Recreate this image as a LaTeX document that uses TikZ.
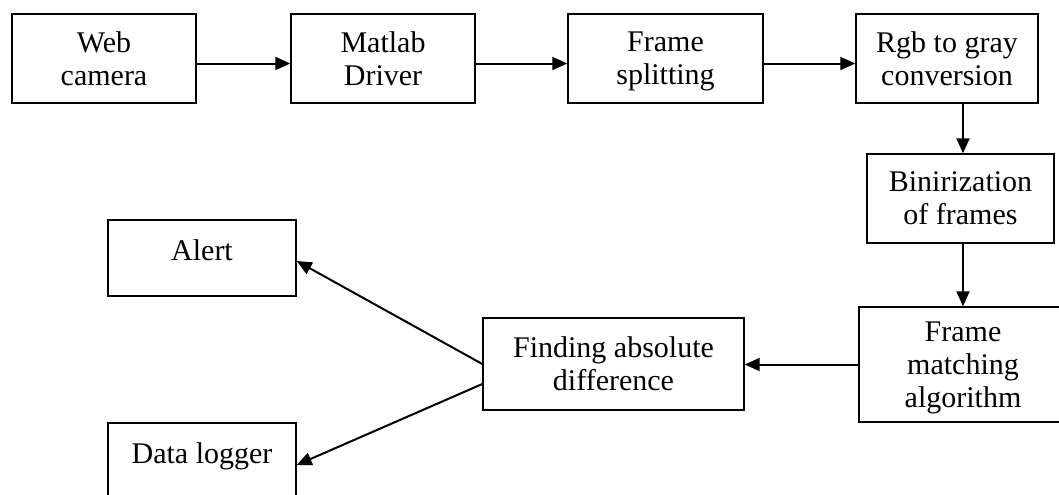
\documentclass[tikz,border=0pt]{standalone}
\usepackage{fontspec}
\setmainfont{Liberation Serif}
\usepackage{tikz}
\usetikzlibrary{arrows.meta}

\tikzset{
  blk/.style={draw,line width=0.7pt,inner sep=0pt,align=center,text depth=0pt},
  flow/.style={line width=1pt,-{Triangle[length=7.5pt,width=6.5pt]}}
}

\begin{document}
\begin{tikzpicture}[x=0.5pt,y=-0.5pt,font=\fontsize{15}{16.5}\selectfont]
          \useasboundingbox (0,0) rectangle (1059,494);
          \node[blk,minimum width=92pt,minimum height=44.5pt] (web) at (104,58.5) {Web\\camera};
          \node[blk,minimum width=92pt,minimum height=44.5pt] (drv) at (383,58.5) {Matlab\\Driver};
          \node[blk,minimum width=97.5pt,minimum height=44.5pt] (split) at (665.5,58.5) {Frame\\splitting};
          \node[blk,minimum width=91pt,minimum height=44.5pt] (gray) at (947,58.5) {Rgb to gray\\conversion};
          \node[blk,minimum width=93.5pt,minimum height=44.5pt] (bin) at (960.5,198.5) {Binirization\\of frames};
          \node[blk,minimum width=104pt,minimum height=57.5pt] (match) at (963,364.5) {Frame\\matching\\algorithm};
          \node[blk,minimum width=130.5pt,minimum height=46pt] (diff) at (613.5,364) {Finding absolute\\difference};
          \node[blk,minimum width=94pt,minimum height=38pt,text height=10pt,text depth=8pt] (alert) at (202,258) {Alert};
          \node[blk,minimum width=94pt,minimum height=38pt,text height=10pt,text depth=8pt] (logger) at (202,461) {Data logger};
          \foreach \a/\b in {web/drv,drv/split,split/gray}{
            \draw[flow] ([yshift=-2.5pt]\a.east) -- ([yshift=-2.5pt]\b.west);}
          \draw[flow] (match.north |- gray.south) -- (match.north |- bin.north);
          \draw[flow] (match.north |- bin.south) -- (match.north);
          \draw[flow] (match.west) -- (match.west -| diff.east);
          \draw[flow] (diff.west) -- ([yshift=-1.5pt]alert.east);
          \draw[flow] ([yshift=-10pt]diff.west) -- ([yshift=-2pt]logger.east);
        \end{tikzpicture}
\end{document}
